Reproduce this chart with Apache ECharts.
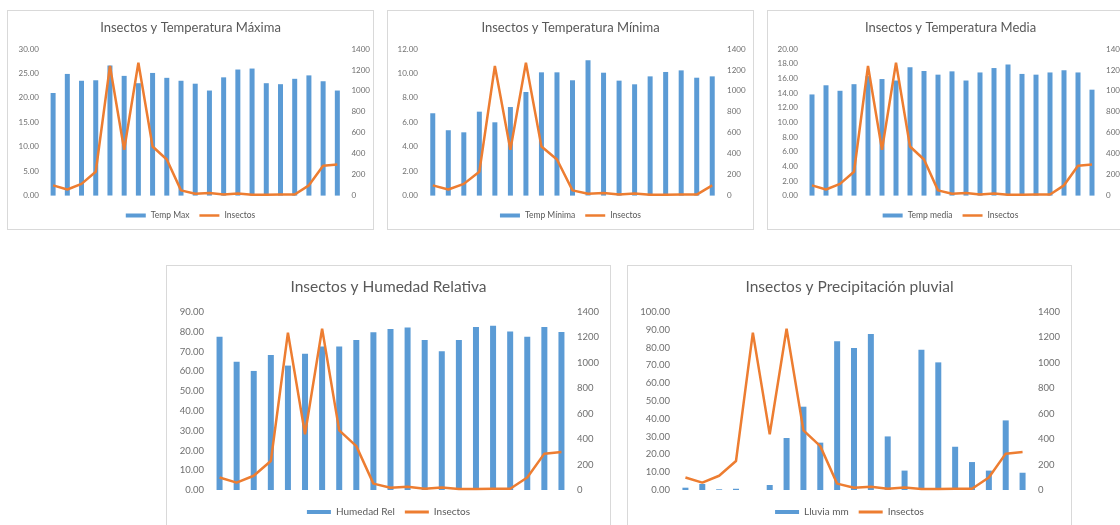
<!DOCTYPE html>
<html>
<head>
<meta charset="utf-8">
<script src="https://cdn.jsdelivr.net/npm/echarts@6/dist/echarts.min.js"></script>
<style>
  html, body { margin: 0; padding: 0; background: #fff; overflow: hidden; width: 1120px; height: 525px; }
  .panel { position: absolute; border: 1px solid #d9d9d9; background: #fff; box-sizing: border-box; }
</style>
</head>
<body>
<div id="p1" class="panel" style="left:7px; top:10px; width:367px; height:220px;"></div>
<div id="p2" class="panel" style="left:387px; top:10px; width:367px; height:220px;"></div>
<div id="p3" class="panel" style="left:767px; top:10px; width:367px; height:220px;"></div>
<div id="p4" class="panel" style="left:166px; top:265px; width:445px; height:275px;"></div>
<div id="p5" class="panel" style="left:627px; top:265px; width:445px; height:275px;"></div>
<script>
// Weekly samples: insect counts and weather variables
const semanas = ['1','2','3','4','5','6','7','8','9','10','11','12','13','14','15','16','17','18','19','20','21'];
const insectos = [98, 58, 112, 228, 1238, 438, 1268, 469, 345, 50, 18, 25, 10, 20, 8, 8, 10, 10, 98, 286, 298];
const tempMax = [21.0, 24.9, 23.5, 23.6, 26.6, 24.5, 23.0, 25.1, 24.1, 23.5, 22.9, 21.5, 24.2, 25.8, 26.0, 23.0, 22.8, 23.9, 24.6, 23.4, 21.5];
const tempMin = [6.74, 5.35, 5.18, 6.87, 6.00, 7.25, 8.48, 10.09, 10.09, 9.44, 11.07, 10.06, 9.41, 9.11, 9.76, 10.12, 10.25, 9.65, 9.76];
const tempMedia = [13.8, 15.05, 14.3, 15.2, 16.3, 15.9, 15.7, 17.5, 17.0, 16.5, 16.95, 15.7, 16.8, 17.4, 17.9, 16.6, 16.5, 16.8, 17.1, 16.8, 14.45];
const humedad = [77.5, 64.9, 60.2, 68.3, 62.9, 68.9, 72.6, 72.5, 75.8, 79.7, 81.4, 82.1, 75.8, 70.1, 75.8, 82.4, 83.1, 80.2, 77.5, 82.4, 79.9];
const lluvia = [1.3, 3.4, 0.4, 0.7, 0, 2.8, 29.2, 46.8, 26.6, 83.5, 79.8, 87.6, 30.1, 10.9, 78.8, 71.7, 24.3, 15.7, 10.9, 39.1, 9.7];
const ejeInsectos = { min: 0, max: 1400, interval: 200 };

const FONT = 'Lato, "Open Sans", sans-serif';
const TEXT = '#595959';
const AXIS_TEXT = '#6f6f6f';
const BLUE = '#5B9BD5';
const ORANGE = '#ED7D31';
// thin bar-shaped legend marker for the line series (no point symbol)
const LINE_ICON = 'path://M0,0H40V5H0Z';

function buildChart(el, cfg) {
  const n = cfg.values.length;
  const cats = semanas.slice(0, n);
  const chart = echarts.init(document.getElementById(el), null, { renderer: 'canvas' });
  chart.setOption({
    animation: false,
    textStyle: { fontFamily: FONT },
    title: {
      text: cfg.title, left: 'center', top: cfg.titleTop,
      textStyle: { fontFamily: FONT, fontSize: cfg.titleSize, fontWeight: 'normal', color: TEXT }
    },
    legend: {
      left: 'center', top: cfg.legendTop, itemGap: 10,
      itemWidth: cfg.legendW, itemHeight: 4,
      textStyle: { fontFamily: FONT, fontSize: cfg.legendSize, color: TEXT },
      data: [
        { name: cfg.name, icon: 'rect' },
        { name: 'Insectos', icon: LINE_ICON }
      ]
    },
    grid: { left: cfg.grid[0], top: cfg.grid[1], width: cfg.grid[2], height: cfg.grid[3], containLabel: false },
    xAxis: {
      type: 'category', data: cats,
      axisLine: { show: false }, axisTick: { show: false }, axisLabel: { show: false }, splitLine: { show: false }
    },
    yAxis: [
      {
        type: 'value', min: 0, max: cfg.max, interval: cfg.interval,
        axisLine: { show: false }, axisTick: { show: false }, splitLine: { show: false },
        axisLabel: { margin: 7, fontFamily: FONT, fontSize: cfg.labelSize, color: AXIS_TEXT, formatter: v => v.toFixed(2) }
      },
      {
        type: 'value', min: ejeInsectos.min, max: ejeInsectos.max, interval: ejeInsectos.interval,
        axisLine: { show: false }, axisTick: { show: false }, splitLine: { show: false },
        axisLabel: { margin: 7, fontFamily: FONT, fontSize: cfg.labelSize, color: AXIS_TEXT, formatter: v => String(v) }
      }
    ],
    series: [
      {
        name: cfg.name, type: 'bar', data: cfg.values, yAxisIndex: 0,
        barWidth: cfg.barWidth, itemStyle: { color: BLUE }
      },
      {
        name: 'Insectos', type: 'line', data: insectos.slice(0, n), yAxisIndex: 1,
        symbol: 'none', lineStyle: { color: ORANGE, width: 2.5 }, itemStyle: { color: ORANGE }
      }
    ]
  });
}

buildChart('p1', { title: 'Insectos y Temperatura Máxima', name: 'Temp Max', values: tempMax, max: 30, interval: 5,
  grid: [38, 38, 302, 146.6], titleTop: 5, titleSize: 13, legendTop: 195, legendW: 20, labelSize: 8, legendSize: 8.5, barWidth: 5 });
buildChart('p2', { title: 'Insectos y Temperatura Mínima', name: 'Temp Mínima', values: tempMin, max: 12, interval: 2,
  grid: [37, 38, 295, 146.6], titleTop: 5, titleSize: 13, legendTop: 195, legendW: 20, labelSize: 8, legendSize: 8.5, barWidth: 5 });
buildChart('p3', { title: 'Insectos y Temperatura Media', name: 'Temp media', values: tempMedia, max: 20, interval: 2,
  grid: [37, 38, 294, 146.6], titleTop: 5, titleSize: 13, legendTop: 195, legendW: 20, labelSize: 8, legendSize: 8.5, barWidth: 5 });
buildChart('p4', { title: 'Insectos y Humedad Relativa', name: 'Humedad Rel', values: humedad, max: 90, interval: 10,
  grid: [44, 46, 359, 178], titleTop: 8, titleSize: 15.5, legendTop: 236, legendW: 24, labelSize: 9.5, legendSize: 10, barWidth: 6 });
buildChart('p5', { title: 'Insectos y Precipitación pluvial', name: 'Lluvia mm', values: lluvia, max: 100, interval: 10,
  grid: [49, 46, 354, 178], titleTop: 8, titleSize: 15.5, legendTop: 236, legendW: 24, labelSize: 9.5, legendSize: 10, barWidth: 6 });
</script>
</body>
</html>
